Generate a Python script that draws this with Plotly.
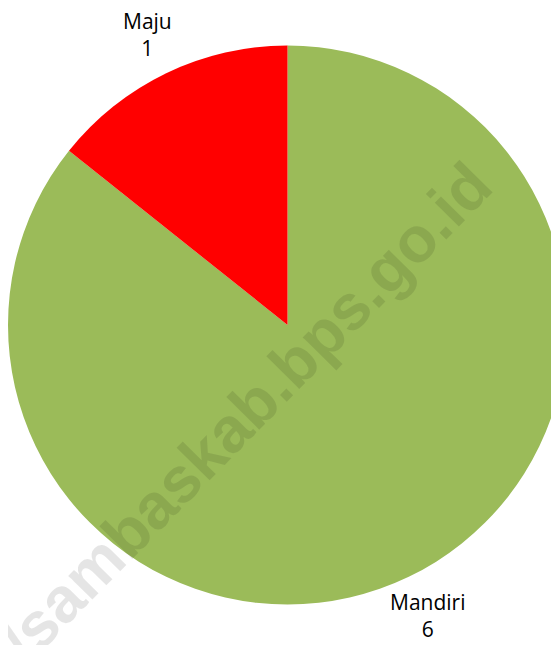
import math
import plotly.graph_objects as go

labels = ["Mandiri", "Maju"]
values = [6, 1]
colors = ["#9BBB59", "#FF0000"]
watermark = "https://sambaskab.bps.go.id"

DOMAIN_X = [0.0, 1.0]
DOMAIN_Y = [0.0752, 0.9419]
W, H = 559, 645
LABEL_DIST = 1.155  # label distance, as a multiple of the pie radius

fig = go.Figure(go.Pie(
    labels=labels,
    values=values,
    sort=False,
    direction="clockwise",
    rotation=0,
    marker=dict(colors=colors, line=dict(width=0)),
    textinfo="none",
    hoverinfo="label+value",
    domain=dict(x=DOMAIN_X, y=DOMAIN_Y),
    showlegend=False,
))

# outside data labels, placed on each slice's mid-angle
cx = (DOMAIN_X[0] + DOMAIN_X[1]) / 2
cy = (DOMAIN_Y[0] + DOMAIN_Y[1]) / 2
r_px = min((DOMAIN_X[1] - DOMAIN_X[0]) * W, (DOMAIN_Y[1] - DOMAIN_Y[0]) * H) / 2
total = sum(values)
cum = 0
for lab, val in zip(labels, values):
    mid = (cum + val / 2) / total * 2 * math.pi
    cum += val
    fig.add_annotation(
        text=f"{lab}<br>{val}",
        xref="paper", yref="paper",
        x=cx + LABEL_DIST * r_px * math.sin(mid) / W,
        y=cy + LABEL_DIST * r_px * math.cos(mid) / H,
        xanchor="center", yanchor="middle",
        showarrow=False,
        borderpad=0,
        font=dict(family="Open Sans", size=21, color="#000000"),
    )

fig.add_annotation(
    text=watermark,
    xref="paper", yref="paper",
    x=169 / 559, y=1 - 474 / 645,
    xanchor="center", yanchor="middle",
    textangle=-45.5,
    showarrow=False,
    font=dict(family="Liberation Sans", size=64, color="rgba(0,0,0,0.1)", weight="bold"),
)

fig.update_layout(
    width=W, height=H,
    margin=dict(l=0, r=0, t=0, b=0),
    paper_bgcolor="white",
    plot_bgcolor="white",
)

fig.write_html("out.html")
